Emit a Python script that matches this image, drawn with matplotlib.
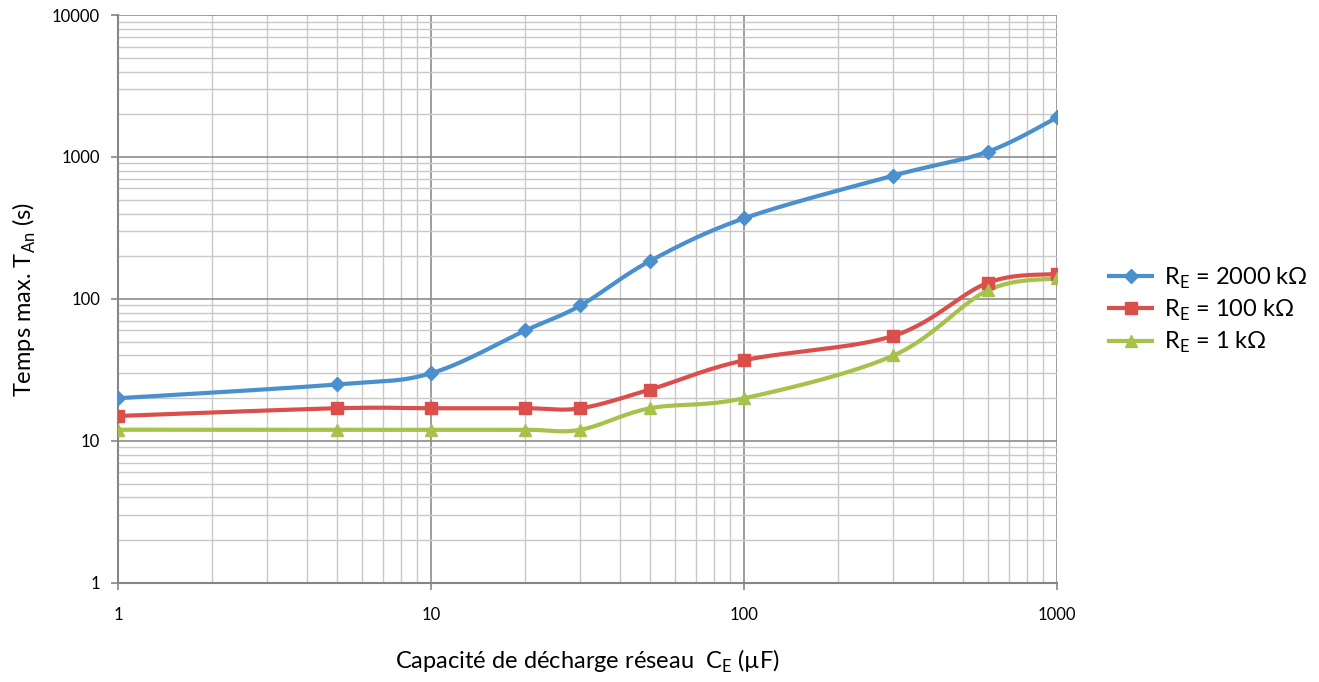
import numpy as np
import matplotlib
matplotlib.use("Agg")
import matplotlib.pyplot as plt
from matplotlib.ticker import LogLocator, FixedLocator, NullFormatter

plt.rcParams['font.family'] = ['Lato', 'DejaVu Sans']

cap = [1, 5, 10, 20, 30, 50, 100, 300, 600, 1000]
t_2000k = [20, 25, 30, 60, 90, 185, 370, 740, 1090, 1900]
t_100k = [15, 17, 17, 17, 17, 23, 37, 55, 130, 150]
t_1k = [12, 12, 12, 12, 12, 17, 20, 40, 115, 140]
labels = [r'R$_\mathregular{E}$ = 2000 kΩ', r'R$_\mathregular{E}$ = 100 kΩ', r'R$_\mathregular{E}$ = 1 kΩ']
colors = ['#4A8FCE', '#DA4E4B', '#A6C24B']
markers = ['D', 's', '^']
msizes = [7, 9, 9]


def smooth(x, y, n=30):
    # Excel-like smoothed line: Bezier segments in log-log (screen) space
    lx, ly = np.log10(x), np.log10(y)
    px, py = [], []
    m = len(lx)
    for i in range(m - 1):
        p0 = (lx[max(i - 1, 0)], ly[max(i - 1, 0)])
        p1 = (lx[i], ly[i])
        p2 = (lx[i + 1], ly[i + 1])
        p3 = (lx[min(i + 2, m - 1)], ly[min(i + 2, m - 1)])
        c1 = (p1[0] + (p2[0] - p0[0]) / 6, p1[1] + (p2[1] - p0[1]) / 6)
        c2 = (p2[0] - (p3[0] - p1[0]) / 6, p2[1] - (p3[1] - p1[1]) / 6)
        t = np.linspace(0, 1, n)
        bx = (1 - t) ** 3 * p1[0] + 3 * (1 - t) ** 2 * t * c1[0] + 3 * (1 - t) * t ** 2 * c2[0] + t ** 3 * p2[0]
        by = (1 - t) ** 3 * p1[1] + 3 * (1 - t) ** 2 * t * c1[1] + 3 * (1 - t) * t ** 2 * c2[1] + t ** 3 * p2[1]
        px.extend(bx)
        py.extend(by)
    return 10 ** np.array(px), 10 ** np.array(py)


fig = plt.figure(figsize=(13.19, 6.82), dpi=100)
ax = fig.add_axes([0.0895, 0.1452, 0.712, 0.8328])
ax.set_xscale('log')
ax.set_yscale('log')
ax.set_xlim(1, 1000)
ax.set_ylim(1, 10000)

for ys, c, mk, ms, lab in zip([t_2000k, t_100k, t_1k], colors, markers, msizes, labels):
    sx, sy = smooth(cap, ys)
    ax.plot(sx, sy, color=c, lw=3, solid_capstyle='round', zorder=3)
    ax.plot(cap, ys, linestyle='none', marker=mk, ms=ms, color=c, zorder=4)
    ax.plot([], [], color=c, lw=3, marker=mk, ms=ms, label=lab)

ax.xaxis.set_major_locator(FixedLocator([1, 10, 100, 1000]))
ax.yaxis.set_major_locator(FixedLocator([1, 10, 100, 1000, 10000]))
ax.xaxis.set_minor_locator(LogLocator(base=10, subs=np.arange(2, 10)))
ax.yaxis.set_minor_locator(LogLocator(base=10, subs=np.arange(2, 10)))
ax.xaxis.set_minor_formatter(NullFormatter())
ax.yaxis.set_minor_formatter(NullFormatter())
ax.set_xticklabels(['1', '10', '100', '1000'])
ax.set_yticklabels(['1', '10', '100', '1000', '10000'])

ax.grid(True, which='major', color='#8C8C8C', lw=1.2, zorder=1)
ax.grid(True, which='minor', color='#C8C8C8', lw=1.0, zorder=1)
ax.set_axisbelow(True)
for s in ['top', 'right']:
    ax.spines[s].set_visible(False)
ax.spines['left'].set_color('#868686')
ax.spines['bottom'].set_color('#868686')
ax.spines['left'].set_linewidth(1.5)
ax.spines['bottom'].set_linewidth(1.5)
ax.tick_params(which='major', length=5, width=1.2, color='#868686', labelsize=12, pad=8)
ax.tick_params(which='minor', length=0)
ax.tick_params(axis='x', pad=12)

ax.set_xlabel(r'Capacité de décharge réseau  C$_\mathregular{E}$ (µF)', fontsize=17, labelpad=18)
ax.set_ylabel(r'Temps max. T$_\mathregular{An}$ (s)', fontsize=17, labelpad=10)

leg = ax.legend(loc='center left', bbox_to_anchor=(0.825, 0.545), bbox_transform=fig.transFigure,
                frameon=False, fontsize=17, handlelength=1.8, labelspacing=0.3, handletextpad=0.5)

fig.savefig('out.png', dpi=100)
